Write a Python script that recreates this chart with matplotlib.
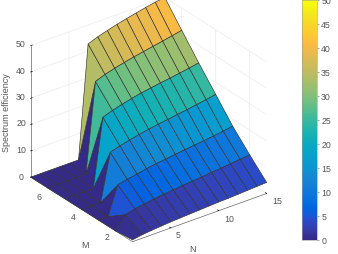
import numpy as np
import matplotlib
matplotlib.use('Agg')
import matplotlib.pyplot as plt
from matplotlib.colors import LinearSegmentedColormap, Normalize
from matplotlib.cm import ScalarMappable

plt.rcParams['font.family'] = ['Liberation Sans', 'DejaVu Sans']

N = [1, 2, 3, 4, 5, 6, 7, 8, 9, 10, 11, 12, 13, 14, 15]
M = [1, 2, 3, 4, 5, 6, 7]

m1 = [0.7, 1.3, 1.7, 2.0, 2.3, 2.5, 2.7, 2.9, 3.1, 3.3, 3.4, 3.6, 3.8, 4.0, 4.2]
m2 = [0, 4.8, 5.7, 6.3, 6.9, 7.3, 7.7, 8.1, 8.4, 8.7, 9.1, 9.4, 9.8, 10.2, 10.6]
m3 = [0, 0, 10.8, 11.6, 12.3, 13.0, 13.6, 14.0, 14.5, 15.0, 15.4, 15.8, 16.3, 16.8, 17.4]
m4 = [0, 0, 0, 17.8, 18.9, 19.8, 20.6, 21.3, 21.9, 22.4, 23.0, 23.5, 24.1, 24.7, 25.4]
m5 = [0, 0, 0, 0, 25.7, 27.0, 28.0, 28.9, 29.7, 30.3, 30.9, 31.4, 32.0, 32.6, 33.3]
m6 = [0, 0, 0, 0, 0, 33.9, 35.3, 36.3, 37.2, 38.0, 38.7, 39.4, 40.1, 40.8, 41.6]
m7 = [0, 0, 0, 0, 0, 0, 42.8, 44.2, 45.3, 46.3, 47.2, 48.0, 48.8, 49.5, 50.0]

n_ticks = [5, 10, 15]
m_ticks = [2, 4, 6]
z_ticks = [0, 10, 20, 30, 40, 50]
cbar_ticks = [0, 5, 10, 15, 20, 25, 30, 35, 40, 45, 50]

# matlab parula, every few entries
parula = LinearSegmentedColormap.from_list('parula', [
    (0.2081, 0.1663, 0.5292), (0.2123, 0.2138, 0.6270), (0.1959, 0.2645, 0.7279),
    (0.1253, 0.3242, 0.8303), (0.0117, 0.3875, 0.8820), (0.0165, 0.4266, 0.8786),
    (0.0498, 0.4586, 0.8641), (0.0723, 0.4887, 0.8467), (0.0793, 0.5200, 0.8312),
    (0.0641, 0.5570, 0.8240), (0.0343, 0.5966, 0.8199), (0.0239, 0.6287, 0.8038),
    (0.0228, 0.6535, 0.7768), (0.0384, 0.6743, 0.7436), (0.0843, 0.6928, 0.7062),
    (0.1453, 0.7098, 0.6646), (0.2178, 0.7250, 0.6193), (0.3022, 0.7376, 0.5712),
    (0.3953, 0.7459, 0.5244), (0.4871, 0.7491, 0.4840), (0.5709, 0.7485, 0.4494),
    (0.6473, 0.7456, 0.4188), (0.7184, 0.7411, 0.3905), (0.7858, 0.7356, 0.3633),
    (0.8507, 0.7299, 0.3360), (0.9139, 0.7258, 0.3063), (0.9739, 0.7314, 0.2666),
    (0.9990, 0.7653, 0.2164), (0.9880, 0.8066, 0.1794), (0.9697, 0.8481, 0.1475),
    (0.9589, 0.8949, 0.1132), (0.9661, 0.9514, 0.0755), (0.9763, 0.9831, 0.0538)])
norm = Normalize(0, 50)
grey = '#555555'

X, Y = np.meshgrid(N, M)
Z = np.array([m1, m2, m3, m4, m5, m6, m7])

fig = plt.figure(figsize=(3.38, 2.54), dpi=100)
ax = fig.add_axes([-3.5 / 338, 4 / 254, 0.88, 1.0], projection='3d', proj_type='ortho')
ax.view_init(elev=28.5, azim=-127)
ax.set_box_aspect((1.173, 1.183, 1.045), zoom=1.076)
ax.patch.set_alpha(0)

ax.plot_surface(X, Y, Z, facecolors=parula(norm(Z)), rstride=1, cstride=1,
                shade=False, edgecolor='#333333', linewidth=0.45, antialiased=True)

ax.set_xlim(1, 15)
ax.set_ylim(1, 7)
ax.set_zlim(0, 50)
ax.set_xticks(n_ticks)
ax.set_yticks(m_ticks)
ax.set_zticks(z_ticks)

for axis in (ax.xaxis, ax.yaxis, ax.zaxis):
    axis.set_pane_color((1, 1, 1, 0))
    axis.pane.set_edgecolor((1, 1, 1, 0))
    axis.line.set_color('#666666')
    axis.line.set_linewidth(0.5)
    axis._axinfo['grid'].update(color='#ececec', linewidth=0.5)
    axis._axinfo['tick'].update(inward_factor=0.0, outward_factor=0.15, linewidth={True: 0.5, False: 0.4})
    axis.set_ticklabels([])


def label(x, y, s, **kw):
    # x, y in pixels from the top left
    fig.text(x / 338, 1 - y / 254, s, color=grey, ha='center', va='center', **kw)


# 3d tick labels can't be nudged, so they sit here by hand
for v, x, y in zip(n_ticks, [178, 229, 277], [235, 219, 202]):
    label(x, y, str(v), fontsize=6.3)
for v, x, y in zip(m_ticks, [107, 73, 39], [238, 218, 197]):
    label(x, y, str(v), fontsize=6.3)
for v, y in zip(z_ticks, [177, 150.5, 124, 97.5, 71, 44.5]):
    label(21, y, str(v), fontsize=6.3)

label(192, 249, 'N', fontsize=6.5)
label(85, 245, 'M', fontsize=6.5)
label(7, 113, 'Spectrum efficiency', fontsize=6.5, rotation=90)

cax = fig.add_axes([302 / 338, 14 / 254, 15 / 338, 240 / 254])
cb = fig.colorbar(ScalarMappable(norm=norm, cmap=parula), cax=cax, ticks=cbar_ticks)
cb.ax.tick_params(labelsize=6.3, labelcolor=grey, length=1.5, width=0.4, color='#666666', pad=1.5)
cb.outline.set_edgecolor('#999999')
cb.outline.set_linewidth(0.4)

fig.savefig('out.png', dpi=100)
